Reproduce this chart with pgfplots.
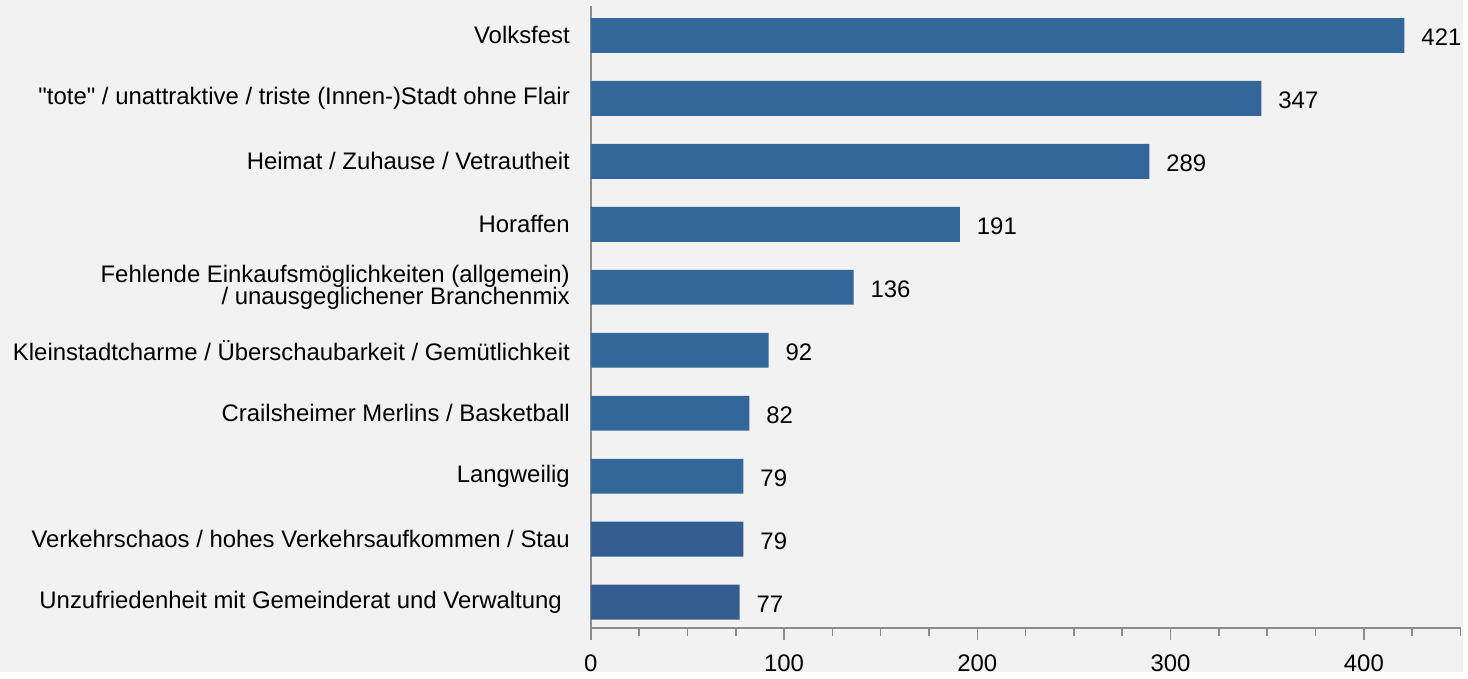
\documentclass[border=0pt]{standalone}
\usepackage{pgfplots}
\pgfplotsset{compat=1.18}
\usepackage{fontspec}
\setmainfont{Liberation Sans}[Ligatures=TeXOff]
\definecolor{bgGrey}{HTML}{F2F2F2}
\definecolor{barBlue}{HTML}{336699}
\definecolor{barDark}{HTML}{345E90}
\definecolor{axGrey}{HTML}{8C8C8C}

\begin{document}
\begin{tikzpicture}[font=\fontsize{12}{11.5}\selectfont]
\fill[bgGrey] (-296.5pt,-22.5pt) rectangle (437.5pt,315pt);
\begin{axis}[
    name=ax, at={(0,0)}, anchor=south west,
    scale only axis,
    width=436.5pt, height=312pt,
    xbar, bar shift=0pt, bar width=17.5pt,
    xmin=0, xmax=450,
    ymin=-0.405, ymax=9.468,
    axis lines*=left,
    axis line style={draw=axGrey, line width=1pt, -},
    xtick={0,100,200,300,400},
    minor xtick={25,50,75,125,150,175,225,250,275,325,350,375,425,450},
    tick style={draw=axGrey, line width=0.8pt},
    xtick pos=lower, tick align=outside,
    major tick length=6pt, minor tick length=4pt,
    ytick={0,...,9},
    ytick style={draw=none},
    yticklabels={
        Unzufriedenheit mit Gemeinderat und Verwaltung\hspace{4pt},
        Verkehrschaos / hohes Verkehrsaufkommen / Stau,
        Langweilig,
        Crailsheimer Merlins / Basketball,
        Kleinstadtcharme / Überschaubarkeit / Gemütlichkeit,
        {Fehlende Einkaufsmöglichkeiten (allgemein)\\ / unausgeglichener Branchenmix},
        Horaffen,
        Heimat / Zuhause / Vetrautheit,
        "tote" / unattraktive / triste (Innen-)Stadt ohne Flair,
        Volksfest},
    yticklabel style={align=right, xshift=-1pt, font=\fontsize{12}{11.5}\selectfont},
    xticklabel style={yshift=-4pt, font=\fontsize{12}{14}\selectfont},
    /pgf/number format/assume math mode=true,
    nodes near coords,
    nodes near coords style={anchor=west, xshift=5pt, yshift=-1pt, font=\fontsize{12}{14}\selectfont},
    point meta=explicit symbolic,
    clip=false,
]
\addplot[fill=barBlue, draw=none] coordinates {
    (421,9) [421] (347,8) [347] (289,7) [289] (191,6) [191]
    (136,5) [136] (92,4) [92] (82,3) [82] (79,2) [79]
};
\addplot[fill=barDark, draw=none] coordinates {
    (79,1) [79] (77,0) [77]
};
\end{axis}
\end{tikzpicture}
\end{document}
